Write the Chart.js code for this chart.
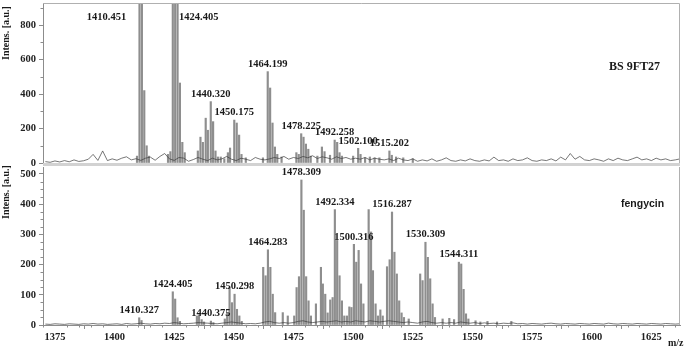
<!DOCTYPE html>
<html>
<head>
<meta charset="utf-8">
<script src="https://cdn.jsdelivr.net/npm/chart.js@4/dist/chart.umd.min.js"></script>
<style>
  html, body { margin: 0; padding: 0; background: #fff; }
  #wrap { position: relative; width: 685px; height: 350px; overflow: hidden; }
  #chartTop { position: absolute; left: 0; top: 0; }
  #chartBot { position: absolute; left: 0; top: 166px; }
</style>
</head>
<body>
<div id="wrap">
  <canvas id="chartTop" width="685" height="176"></canvas>
  <canvas id="chartBot" width="685" height="184"></canvas>
</div>
<script>
// tick labels
const xTickLabels = [1375, 1400, 1425, 1450, 1475, 1500, 1525, 1550, 1575, 1600, 1625];
const topYTicks = [0, 200, 400, 600, 800];
const botYTicks = [0, 100, 200, 300, 400, 500];

// BS 9FT27 peaks (m/z, intensity a.u.)
const topPeakMz = [1409.4, 1410.451, 1411.45, 1412.45, 1413.45, 1414.4,
  1422.4, 1423.4, 1424.405, 1425.4, 1426.4, 1427.4, 1428.4, 1429.4,
  1434.9, 1436.0, 1437.0, 1438.2, 1439.1, 1440.320, 1441.3, 1442.3, 1443.3,
  1444.5, 1446.0, 1447.5, 1448.4, 1450.175, 1451.2, 1452.2, 1453.2, 1455.0,
  1462.2, 1464.199, 1465.2, 1466.2, 1467.2, 1468.2, 1470.0,
  1476.2, 1477.2, 1478.225, 1479.2, 1480.2, 1481.2, 1482.2,
  1485.0, 1486.9, 1488.0, 1490.3, 1492.258, 1493.3, 1494.3, 1495.3,
  1500.0, 1502.100, 1503.1, 1505.0, 1507.0, 1509.0, 1511.0,
  1515.202, 1516.2, 1518.0, 1521.0, 1525.0];
const topPeakInt = [40, 1500, 1100, 420, 100, 40,
  50, 66, 1600, 1300, 1000, 464, 120, 60,
  70, 150, 120, 260, 190, 356, 240, 70, 35,
  35, 25, 60, 87, 249, 232, 162, 50, 30,
  30, 530, 435, 232, 93, 50, 35,
  60, 50, 170, 150, 110, 80, 40,
  40, 93, 66, 45, 133, 120, 60, 40,
  40, 85, 50, 30, 35, 30, 30,
  70, 45, 35, 30, 25];
const topLabelMz = [1410.451, 1424.405, 1440.320, 1450.175, 1464.199, 1478.225, 1492.258, 1502.100, 1515.202];

// fengycin standard peaks
const botPeakMz = [1410.327, 1411.3, 1424.405, 1425.4, 1426.4, 1427.4,
  1434.5, 1435.4, 1436.5, 1437.5, 1440.375, 1441.4,
  1446.2, 1447.2, 1448.2, 1449.2, 1450.298, 1451.3, 1452.3, 1453.3,
  1462.3, 1463.3, 1464.283, 1465.3, 1466.3, 1467.3, 1470.5, 1472.6,
  1475.3, 1476.3, 1477.3, 1478.309, 1479.3, 1480.3, 1481.3, 1482.3,
  1484.4, 1486.5, 1487.3, 1488.3, 1489.3, 1490.4, 1491.4, 1492.334, 1493.3, 1494.3, 1495.3, 1496.3,
  1497.4, 1498.4, 1499.3, 1500.316, 1501.3, 1502.3, 1503.3, 1504.3,
  1506.5, 1507.5, 1508.3, 1509.4, 1510.4, 1511.4, 1512.4,
  1514.2, 1515.3, 1516.287, 1517.3, 1518.3, 1519.3, 1520.3, 1521.3, 1523.3,
  1528.1, 1529.1, 1530.309, 1531.3, 1532.3, 1533.3, 1534.3,
  1537.5, 1540.3, 1542.3, 1544.311, 1545.3, 1546.3, 1547.3, 1548.3,
  1551.3, 1553.3, 1556.3, 1560.3, 1566.3];
const botPeakInt = [24, 15, 110, 86, 24, 12,
  30, 33, 18, 10, 13, 8,
  20, 40, 124, 74, 102, 52, 30, 12,
  191, 163, 249, 191, 102, 41, 41, 30,
  30, 124, 160, 480, 380, 160, 80, 30,
  70, 191, 136, 102, 40, 83, 91, 382, 280, 163, 80, 30,
  30, 60, 58, 267, 208, 247, 136, 70,
  382, 308, 180, 70, 30, 50, 30,
  193, 216, 374, 241, 169, 80, 40, 25, 20,
  169, 147, 274, 224, 153, 70, 25,
  20, 22, 18, 208, 202, 118, 37, 20,
  14, 10, 12, 10, 12];
const botLabelMz = [1410.327, 1424.405, 1440.375, 1450.298, 1464.283, 1478.309, 1492.334, 1500.316, 1516.287, 1530.309, 1544.311];

// baseline noise, read every 2 m/z
const noiseMz = [1371, 1373, 1375, 1377, 1379, 1381, 1383, 1385, 1387, 1389, 1391, 1393, 1395, 1397, 1399,
  1401, 1403, 1405, 1407, 1409, 1411, 1413, 1415, 1417, 1419, 1421, 1423, 1425, 1427, 1429,
  1431, 1433, 1435, 1437, 1439, 1441, 1443, 1445, 1447, 1449, 1451, 1453, 1455, 1457, 1459,
  1461, 1463, 1465, 1467, 1469, 1471, 1473, 1475, 1477, 1479, 1481, 1483, 1485, 1487, 1489,
  1491, 1493, 1495, 1497, 1499, 1501, 1503, 1505, 1507, 1509, 1511, 1513, 1515, 1517, 1519,
  1521, 1523, 1525, 1527, 1529, 1531, 1533, 1535, 1537, 1539, 1541, 1543, 1545, 1547, 1549,
  1551, 1553, 1555, 1557, 1559, 1561, 1563, 1565, 1567, 1569, 1571, 1573, 1575, 1577, 1579,
  1581, 1583, 1585, 1587, 1589, 1591, 1593, 1595, 1597, 1599, 1601, 1603, 1605, 1607, 1609,
  1611, 1613, 1615, 1617, 1619, 1621, 1623, 1625, 1627, 1629, 1631, 1633, 1635, 1637];
const topNoise = [8, 4, 12, 6, 14, 7, 18, 9, 13, 22, 50, 15, 70, 14, 24,
  16, 28, 36, 18, 25, 15, 28, 34, 16, 38, 55, 24, 15, 32, 28,
  10, 20, 32, 22, 14, 28, 18, 24, 38, 22, 14, 28, 22, 14, 32,
  22, 18, 24, 32, 26, 38, 22, 32, 26, 38, 30, 42, 26, 36, 30,
  22, 36, 26, 32, 22, 28, 22, 32, 18, 28, 22, 18, 24, 14, 28,
  18, 14, 24, 10, 18, 12, 24, 10, 18, 30, 14, 10, 18, 12, 24,
  14, 10, 18, 12, 34, 14, 18, 10, 24, 14, 18, 30, 14, 10, 18,
  14, 24, 12, 34, 18, 55, 22, 38, 18, 14, 24, 18, 10, 24, 14,
  28, 18, 14, 24, 34, 18, 24, 14, 28, 18, 24, 14, 18, 24];
const botNoise = [3, 2, 4, 3, 2, 4, 3, 2, 4, 3, 5, 3, 4, 2, 3,
  4, 2, 5, 3, 4, 6, 4, 3, 5, 4, 6, 5, 8, 6, 4,
  5, 6, 8, 7, 6, 5, 4, 6, 8, 10, 8, 6, 4, 5, 4,
  6, 10, 12, 8, 6, 8, 6, 8, 12, 14, 10, 8, 10, 12, 10,
  12, 14, 10, 12, 10, 14, 12, 10, 14, 12, 10, 12, 14, 12, 10,
  8, 10, 8, 6, 10, 12, 8, 6, 8, 6, 8, 6, 10, 8, 6,
  8, 5, 7, 5, 6, 4, 6, 5, 7, 4, 5, 3, 5, 4, 3,
  5, 6, 4, 3, 5, 4, 3, 5, 4, 3, 5, 4, 3, 6, 4,
  3, 5, 4, 3, 5, 4, 3, 5, 4, 3, 5, 4, 3, 4];

const serif = '"Liberation Serif", "Times New Roman", serif';
const tickFont = { family: serif, size: 10.5, weight: 'bold' };
const axisGray = '#8c8c8c';

// labels of the two clipped peaks sit beside them
const labelNudge = { 1410.451: { dx: -33, top: 14 }, 1424.405: { dx: 26, top: 14 } };

function noPad(s) {
  s.paddingTop = 0;
  s.paddingBottom = 0;
  s.paddingLeft = 0;
  s.paddingRight = 0;
}

function decor(cfg) {
  return {
    id: 'decor',
    afterDraw(chart) {
      const { ctx, chartArea: a } = chart;
      const x = chart.scales.x, y = chart.scales.y;
      ctx.save();

      // frame
      ctx.strokeStyle = '#b0b0b0';
      ctx.lineWidth = 1;
      ctx.beginPath();
      if (cfg.frameTop) {
        ctx.moveTo(a.left, a.top + 0.5);
        ctx.lineTo(a.right - 0.5, a.top + 0.5);
      } else {
        ctx.moveTo(a.right - 0.5, a.top);
      }
      ctx.lineTo(a.right - 0.5, a.bottom);
      ctx.stroke();
      if (cfg.band) {
        ctx.fillStyle = '#d2d2d2';
        ctx.fillRect(a.left, a.bottom, a.right - a.left, 3);
      }

      // minor ticks
      ctx.strokeStyle = axisGray;
      ctx.beginPath();
      for (let v = 0; v <= y.max; v += cfg.yMinor) {
        if (v % cfg.yMajor === 0) continue;
        const py = Math.round(y.getPixelForValue(v)) + 0.5;
        ctx.moveTo(a.left - 2.5, py);
        ctx.lineTo(a.left, py);
      }
      if (cfg.xMinor) {
        for (let v = Math.ceil(x.min / cfg.xMinor) * cfg.xMinor; v <= x.max; v += cfg.xMinor) {
          if (v % 25 === 0) continue;
          const px = Math.round(x.getPixelForValue(v)) + 0.5;
          ctx.moveTo(px, a.bottom);
          ctx.lineTo(px, a.bottom + 2.5);
        }
      }
      ctx.stroke();

      // peak labels
      ctx.fillStyle = '#1a1a1a';
      ctx.font = 'bold 10.5px ' + serif;
      ctx.textAlign = 'center';
      ctx.textBaseline = 'middle';
      cfg.labelMz.forEach(m => {
        const h = cfg.peakInt[cfg.peakMz.indexOf(m)];
        const n = labelNudge[m];
        let px = x.getPixelForValue(m), py;
        if (cfg.nudge && n) {
          px += n.dx;
          py = a.top + n.top;
        } else {
          py = y.getPixelForValue(h) - 7.5;
        }
        ctx.fillText(m.toFixed(3), px, py);
      });

      ctx.font = cfg.nameFont;
      ctx.textAlign = 'left';
      ctx.fillText(cfg.name, cfg.nameX, cfg.nameY);

      ctx.save();
      ctx.font = 'bold 10px ' + serif;
      ctx.textAlign = 'center';
      ctx.translate(6, cfg.titleY);
      ctx.rotate(-Math.PI / 2);
      ctx.fillText('Intens. [a.u.]', 0, 0);
      ctx.restore();

      if (cfg.mz) {
        ctx.font = 'bold 10px ' + serif;
        ctx.textAlign = 'left';
        ctx.fillText('m/z', 668, 177);
      }
      ctx.restore();
    }
  };
}

function yAxis(max, labels) {
  return {
    min: 0, max: max,
    afterFit(s) { s.width = 43; noPad(s); },
    afterBuildTicks(s) { s.ticks = labels.map(v => ({ value: v })); },
    ticks: {
      autoSkip: false, padding: 3, color: '#222', font: tickFont,
      callback: v => String(v)
    },
    grid: { drawOnChartArea: false, tickLength: 4, color: axisGray },
    border: { color: axisGray }
  };
}

function datasets(peakMz, peakInt, noise) {
  return [
    {
      type: 'line',
      data: noiseMz.map((m, i) => ({ x: m, y: noise[i] })),
      borderColor: '#3c3c3c', borderWidth: 0.7, pointRadius: 0, order: 0
    },
    {
      type: 'bar',
      data: peakMz.map((m, i) => ({ x: m, y: peakInt[i] })),
      backgroundColor: '#8e8e8e', barThickness: 1.5, order: 1
    }
  ];
}

new Chart(document.getElementById('chartTop'), {
  type: 'bar',
  data: { datasets: datasets(topPeakMz, topPeakInt, topNoise) },
  options: {
    responsive: false, animation: false, events: [],
    layout: { autoPadding: false, padding: { top: 3, right: 5, bottom: 13, left: 0 } },
    plugins: { legend: { display: false }, tooltip: { enabled: false } },
    scales: {
      x: { type: 'linear', min: 1370, max: 1637, offset: false, display: false },
      y: yAxis(928, topYTicks)
    }
  },
  plugins: [decor({
    frameTop: true, band: true, nudge: true, yMinor: 100, yMajor: 200,
    labelMz: topLabelMz, peakMz: topPeakMz, peakInt: topPeakInt,
    name: 'BS 9FT27', nameFont: 'bold 12px ' + serif, nameX: 609, nameY: 67,
    titleY: 33
  })]
});

new Chart(document.getElementById('chartBot'), {
  type: 'bar',
  data: { datasets: datasets(botPeakMz, botPeakInt, botNoise) },
  options: {
    responsive: false, animation: false, events: [],
    layout: { autoPadding: false, padding: { top: 1, right: 5, bottom: 0, left: 0 } },
    plugins: { legend: { display: false }, tooltip: { enabled: false } },
    scales: {
      x: {
        type: 'linear', min: 1370, max: 1637, offset: false,
        afterFit(s) { s.height = 25; noPad(s); },
        afterBuildTicks(s) { s.ticks = xTickLabels.map(v => ({ value: v })); },
        ticks: {
          autoSkip: false, maxRotation: 0, padding: 2, color: '#222', font: tickFont,
          callback: v => String(v)
        },
        grid: { drawOnChartArea: false, tickLength: 4, color: axisGray },
        border: { color: axisGray }
      },
      y: yAxis(523, botYTicks)
    }
  },
  plugins: [decor({
    frameTop: false, band: false, nudge: false, mz: true, yMinor: 25, yMajor: 100, xMinor: 5,
    labelMz: botLabelMz, peakMz: botPeakMz, peakInt: botPeakInt,
    name: 'fengycin', nameFont: 'bold 10.5px "Liberation Sans", Arial, sans-serif', nameX: 621, nameY: 38,
    titleY: 26
  })]
});
</script>
</body>
</html>
